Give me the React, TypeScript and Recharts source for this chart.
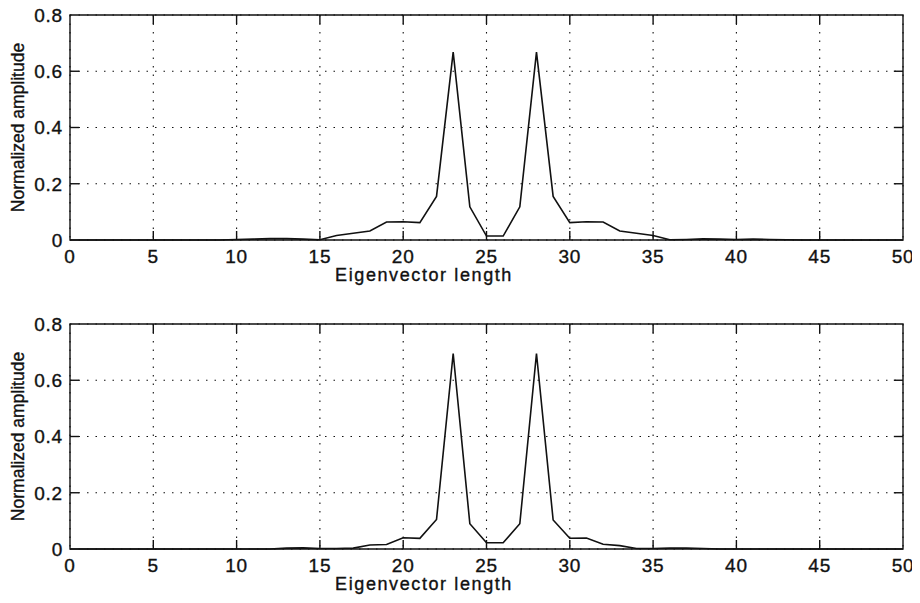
import { CartesianGrid, Label, Line, LineChart, ReferenceArea, ReferenceLine, XAxis, YAxis } from 'recharts';

// eigenvector index 0..50
const lengths = Array.from({ length: 51 }, (_, i) => i);

// upper panel
const ampUpper = [
  0, 0, 0, 0, 0, 0, 0, 0, 0, 0,
  0.002, 0.003, 0.005, 0.005, 0.003, 0.001, 0.016, 0.024, 0.032, 0.064,
  0.065, 0.062, 0.155, 0.668, 0.118, 0.014, 0.014, 0.118, 0.668, 0.155,
  0.062, 0.065, 0.064, 0.032, 0.024, 0.016, 0.001, 0.002, 0.004, 0.003,
  0.002, 0.003, 0.002, 0.001, 0, 0, 0, 0, 0, 0,
  0,
];

// lower panel
const ampLower = [
  0, 0, 0, 0, 0, 0, 0, 0, 0, 0,
  0, 0, 0, 0.003, 0.004, 0.002, 0.002, 0.003, 0.014, 0.016,
  0.04, 0.038, 0.105, 0.695, 0.09, 0.022, 0.022, 0.09, 0.695, 0.103,
  0.038, 0.039, 0.017, 0.012, 0.002, 0.002, 0.003, 0.003, 0.002, 0,
  0, 0, 0, 0, 0, 0, 0, 0, 0, 0,
  0,
];

const xTicks = [0, 5, 10, 15, 20, 25, 30, 35, 40, 45, 50];
const yTicks = [0, 0.2, 0.4, 0.6, 0.8];

const X_LABEL = 'Eigenvector length';
const Y_LABEL = 'Normalized amplitude';

const FONT = '"Liberation Sans", Arial, Helvetica, sans-serif';
const INK = '#111';

// inward tick marks (matlab style), in data units
const MARK_Y = 0.032;
const MARK_X = 0.55;

const fmtY = (v: number) => (v === 0 ? '0' : v.toFixed(1));

const textStyle = {
  fill: INK,
  stroke: INK,
  strokeWidth: 0.35,
  fontFamily: FONT,
};

function BottomTick(props: any) {
  const { x, y, payload } = props;
  return (
    <text x={x} y={y + 13} textAnchor="middle" fontSize={19} letterSpacing={0.8} {...textStyle}>
      {payload.value}
    </text>
  );
}

function LeftTick(props: any) {
  const { x, y, payload } = props;
  return (
    <text x={x} y={y} dy="0.36em" textAnchor="end" fontSize={19} letterSpacing={0.8} {...textStyle}>
      {fmtY(payload.value)}
    </text>
  );
}

function XTitle(props: any) {
  const vb = props.viewBox ?? { x: 70, y: 240, width: 833 };
  return (
    <text
      x={vb.x + vb.width * 0.425}
      y={vb.y + 41}
      textAnchor="middle"
      fontSize={18}
      letterSpacing={1.6}
      {...textStyle}
    >
      {X_LABEL}
    </text>
  );
}

function YTitle(props: any) {
  const vb = props.viewBox ?? { y: 15, height: 225 };
  const cy = vb.y + vb.height / 2;
  return (
    <text
      x={18}
      y={cy}
      transform={`rotate(-90, 18, ${cy})`}
      textAnchor="middle"
      dominantBaseline="central"
      fontSize={17.5}
      {...textStyle}
    >
      {Y_LABEL}
    </text>
  );
}

function Panel({
  values,
  height,
  marginTop,
  axisHeight,
}: {
  values: number[];
  height: number;
  marginTop: number;
  axisHeight: number;
}) {
  const data = lengths.map((n, i) => ({ n, amp: values[i] }));
  const innerX = xTicks.slice(1, -1);
  const innerY = yTicks.slice(1, -1);

  return (
    <LineChart
      width={920}
      height={height}
      data={data}
      margin={{ top: marginTop, right: 17, bottom: 0, left: 20 }}
    >
      <CartesianGrid stroke={INK} strokeDasharray="1.5 7" strokeWidth={1.1} />
      <XAxis
        dataKey="n"
        type="number"
        domain={[0, 50]}
        ticks={xTicks}
        height={axisHeight}
        axisLine={false}
        tickLine={false}
        tick={<BottomTick />}
        tickSize={0}
        tickMargin={10}
        interval={0}
      >
        <Label content={<XTitle />} />
      </XAxis>
      <YAxis
        type="number"
        domain={[0, 0.8]}
        ticks={yTicks}
        width={50}
        axisLine={false}
        tickLine={false}
        tick={<LeftTick />}
        tickSize={0}
        tickMargin={7}
        interval={0}
      >
        <Label content={<YTitle />} />
      </YAxis>
      {innerX.map((t) => (
        <ReferenceLine
          key={`b${t}`}
          segment={[{ x: t, y: 0 }, { x: t, y: MARK_Y }]}
          stroke={INK}
          strokeWidth={1.4}
        />
      ))}
      {innerX.map((t) => (
        <ReferenceLine
          key={`t${t}`}
          segment={[{ x: t, y: 0.8 }, { x: t, y: 0.8 - MARK_Y }]}
          stroke={INK}
          strokeWidth={1.4}
        />
      ))}
      {innerY.map((t) => (
        <ReferenceLine
          key={`l${t}`}
          segment={[{ x: 0, y: t }, { x: MARK_X, y: t }]}
          stroke={INK}
          strokeWidth={1.4}
        />
      ))}
      {innerY.map((t) => (
        <ReferenceLine
          key={`r${t}`}
          segment={[{ x: 50, y: t }, { x: 50 - MARK_X, y: t }]}
          stroke={INK}
          strokeWidth={1.4}
        />
      ))}
      <ReferenceArea
        x1={0}
        x2={50}
        y1={0}
        y2={0.8}
        fill="none"
        fillOpacity={0}
        stroke={INK}
        strokeWidth={1.4}
        strokeOpacity={1}
      />
      <Line
        dataKey="amp"
        type="linear"
        stroke={INK}
        strokeWidth={1.6}
        dot={false}
        activeDot={false}
        isAnimationActive={false}
      />
    </LineChart>
  );
}

export default function App() {
  return (
    <div style={{ position: 'relative', width: 920, height: 603, margin: -8, background: '#fff' }}>
      <div style={{ position: 'absolute', left: 0, top: 0 }}>
        <Panel values={ampUpper} height={300} marginTop={15} axisHeight={60} />
      </div>
      <div style={{ position: 'absolute', left: 0, top: 300 }}>
        <Panel values={ampLower} height={303} marginTop={24} axisHeight={54} />
      </div>
    </div>
  );
}
